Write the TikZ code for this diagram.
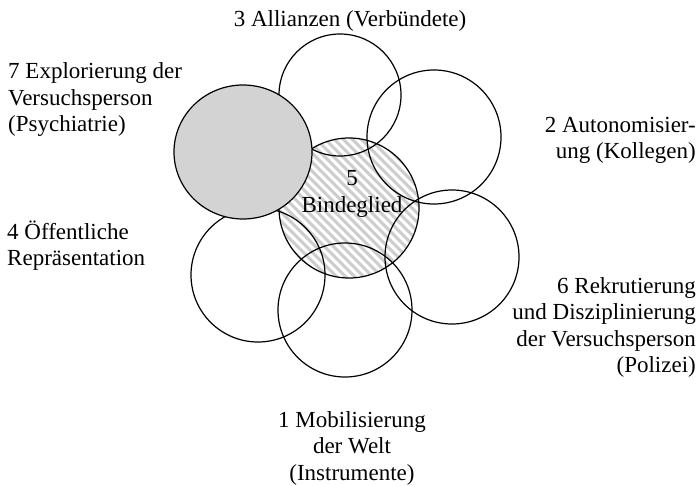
\documentclass[tikz,border=0pt]{standalone}
\usepackage{fontspec}
\setmainfont{Liberation Serif}
\usetikzlibrary{shapes.geometric}
\definecolor{graycirc}{RGB}{211,211,211}
\definecolor{hatchgray}{RGB}{205,205,205}
\begin{document}
\begin{tikzpicture}[x=1pt,y=-1pt,
  ring/.style={draw=black, line width=1.2pt, circle, inner sep=0pt, minimum size=#1},
  lbl/.style={font=\fontsize{23}{26.5}\selectfont, inner sep=0pt},
  hatchline/.style={draw=hatchgray, line width=3pt}]
\useasboundingbox (0,0) rectangle (700,486);
% hatched fill of the centre circle
\begin{scope}
  \clip (349,208) circle [radius=70];
  \foreach \i in {-171,-162,...,171}
    \draw[hatchline] ({349+\i-80},128) -- ++(160,160);
\end{scope}
% circles
\node[ring=140pt] (c5) at (349,208) {};
\node[ring=122pt] (c3) at (340,95) {};
\node[ring=134pt] (c2) at (434,137) {};
\node[ring=134pt] (c6) at (452,257) {};
\node[ring=134pt] (c1) at (345,310) {};
\node[ring=134pt] (c4) at (258,275) {};
\node[draw=black, line width=1.2pt, fill=graycirc, ellipse, inner sep=0pt,
      minimum width=138pt, minimum height=134pt] (c7) at (243,152) {};
% labels (base anchor = baseline of the last line)
\node[lbl, anchor=base, align=center] (t5) at (352,212) {5\\Bindeglied};
\node[lbl, anchor=base] (t3) at (350,27) {3 Allianzen (Verbündete)};
\node[lbl, anchor=base west, align=left] (t7) at (8,132) {7 Explorierung der\\Versuchsperson\\(Psychiatrie)};
\node[lbl, anchor=base east, align=right] (t2) at (696,159) {2 Autonomisier-\\ung (Kollegen)};
\node[lbl, anchor=base west, align=left] (t4) at (7,265.5) {4 Öffentliche\\Repräsentation};
\node[lbl, anchor=base east, align=right] (t6) at (696,372.5) {6 Rekrutierung\\und Disziplinierung\\der Versuchsperson\\(Polizei)};
\node[lbl, anchor=base, align=center] (t1) at (352,480) {1 Mobilisierung\\der Welt\\(Instrumente)};
\end{tikzpicture}
\end{document}
